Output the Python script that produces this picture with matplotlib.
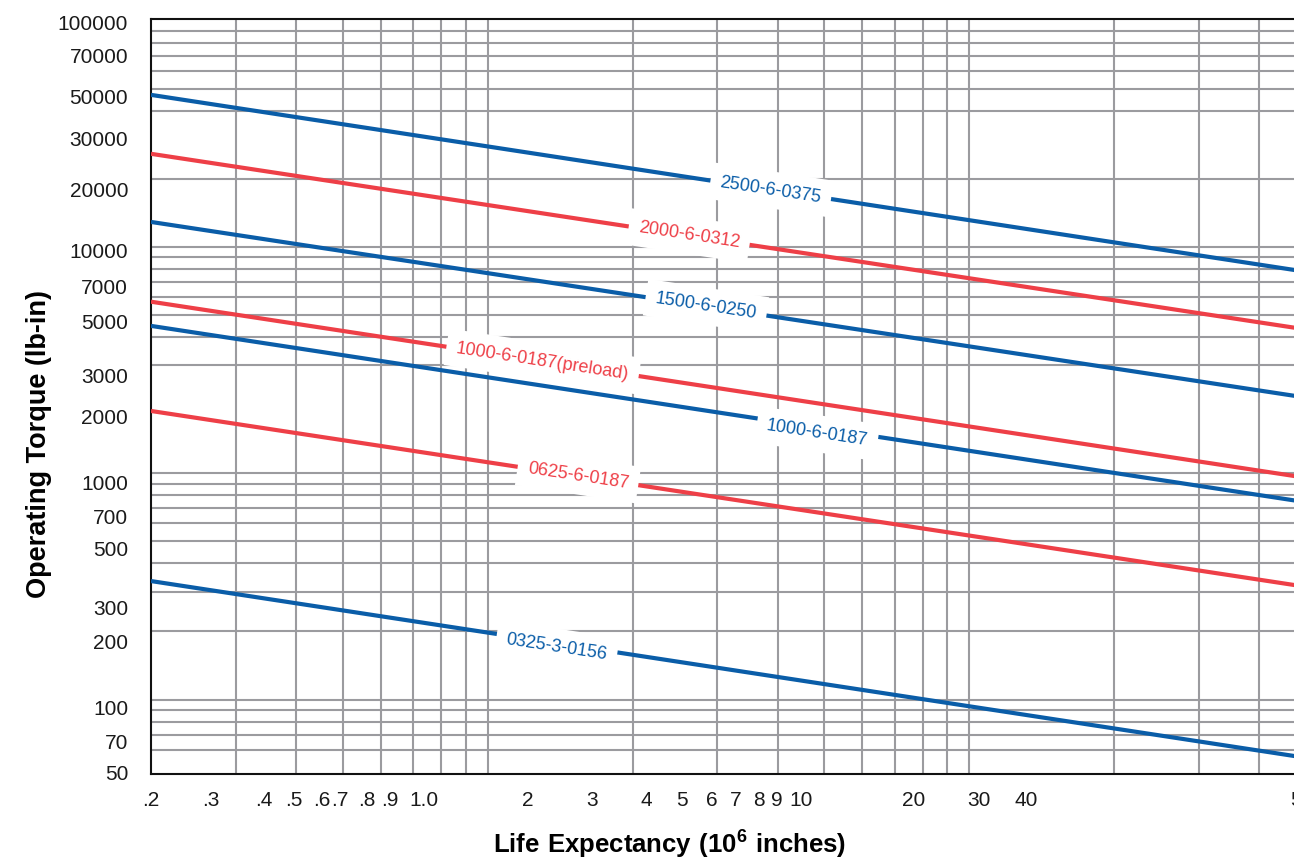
import numpy as np
import matplotlib
matplotlib.use('Agg')
import matplotlib.pyplot as plt
from matplotlib.ticker import FixedLocator, NullFormatter

plt.rcParams['font.family'] = ['Liberation Sans', 'DejaVu Sans']
plt.rcParams['mathtext.fontset'] = 'custom'
plt.rcParams['mathtext.rm'] = 'Liberation Sans'
plt.rcParams['mathtext.bf'] = 'Liberation Sans:bold'

# life expectancy (10^6 inches) at both ends of each rating line
life = [0.2, 50]

# operating torque (lb-in) at those two lives
torque_2500_6_0375 = [47000, 7770]
torque_2000_6_0312 = [25800, 4320]
torque_1500_6_0250 = [12900, 2160]
torque_1000_6_0187_preload = [5730, 955]
torque_1000_6_0187 = [4480, 745]
torque_0625_6_0187 = [1885, 315]
torque_0325_3_0156 = [334, 55.3]

names = ['2500-6-0375', '2000-6-0312', '1500-6-0250', '1000-6-0187(preload)',
         '1000-6-0187', '0625-6-0187', '0325-3-0156']
torques = [torque_2500_6_0375, torque_2000_6_0312, torque_1500_6_0250,
           torque_1000_6_0187_preload, torque_1000_6_0187,
           torque_0625_6_0187, torque_0325_3_0156]

BLUE = '#0A5DA8'
RED = '#EE3F47'
line_colors = [BLUE, RED, BLUE, RED, BLUE, RED, BLUE]
# where along each line the label box sits (life value)
label_life = [3.87, 2.62, 2.84, 1.30, 4.83, 1.54, 1.39]
label_shift = [0, 0, 0, 0, -6, 0, -4]  # px, small nudges seen in the original

# tick labels are printed slightly off the grid in the original
xtick_pos = [0.2, 0.266, 0.343, 0.396, 0.453, 0.493, 0.561, 0.627, 0.737,
             1.21, 1.65, 2.13, 2.53, 2.92, 3.27, 3.65, 3.98, 4.47,
             7.66, 10.45, 13.1, 49]
xtick_lab = ['.2', '.3', '.4', '.5', '.6', '.7', '.8', '.9', '1.0',
             '2', '3', '4', '5', '6', '7', '8', '9', '10', '20', '30', '40', '50']
ytick_pos = [98000, 69800, 46000, 30000, 18030, 9600, 6660, 4665, 2694, 1775,
             906, 641, 463, 256, 180, 92.7, 65, 47.4]
ytick_lab = ['100000', '70000', '50000', '30000', '20000', '10000', '7000', '5000',
             '3000', '2000', '1000', '700', '500', '300', '200', '100', '70', '50']

xgrid = [0.3, 0.4, 0.5, 0.6, 0.7, 0.8, 0.9, 1, 2, 3, 4, 5, 6, 7, 8, 9, 10, 20, 30, 40]
ygrid = [60, 70, 80, 90, 100, 200, 300, 400, 500, 600, 700, 800, 900, 1000,
         3000, 4000, 5000, 6000, 7000, 8000, 9000, 10000,
         20000, 30000, 40000, 50000, 60000, 70000, 80000, 90000]

fig = plt.figure(figsize=(12.94, 8.6), dpi=100)
ax = fig.add_axes([151 / 1294, 86 / 860, 1155 / 1294, 755 / 860])
ax.set_xscale('log')
ax.set_yscale('log')
ax.set_xlim(0.2, 50)
ax.set_ylim(46.9, 101700)

ax.xaxis.set_major_locator(FixedLocator(xtick_pos))
ax.set_xticklabels(xtick_lab)
ax.yaxis.set_major_locator(FixedLocator(ytick_pos))
ax.set_yticklabels(ytick_lab)
ax.xaxis.set_minor_locator(FixedLocator(xgrid))
ax.yaxis.set_minor_locator(FixedLocator(ygrid))
ax.xaxis.set_minor_formatter(NullFormatter())
ax.yaxis.set_minor_formatter(NullFormatter())
ax.tick_params(which='both', length=0)
ax.tick_params(axis='x', pad=12.5, labelsize=15, labelcolor='#1a1a1a')
ax.tick_params(axis='y', pad=16.5, labelsize=15, labelcolor='#1a1a1a')
ax.grid(which='minor', color='#9b9b9f', lw=1.5)
ax.grid(which='major', visible=False)
ax.set_axisbelow(True)

for s in ['left', 'bottom', 'top']:
    ax.spines[s].set_color('#111111')
    ax.spines[s].set_linewidth(1.5)
ax.spines['right'].set_visible(False)

for name, tq, col, xl, dy in zip(names, torques, line_colors, label_life, label_shift):
    ax.plot(life, tq, color=col, lw=3, solid_capstyle='butt', zorder=3)
    yl = 10 ** np.interp(np.log10(xl), np.log10(life), np.log10(tq))
    p0 = ax.transData.transform((life[0], tq[0]))
    p1 = ax.transData.transform((life[1], tq[1]))
    ang = np.degrees(np.arctan2(p1[1] - p0[1], p1[0] - p0[0]))
    px = ax.transData.transform((xl, yl))
    px[1] += dy
    xd, yd = ax.transData.inverted().transform(px)
    ax.text(xd, yd, name, color=col, fontsize=13, rotation=ang,
            rotation_mode='anchor', ha='center', va='center', zorder=4,
            bbox=dict(boxstyle='square,pad=0.55', fc='white', ec='none'))

ax.set_ylabel('Operating Torque (lb-in)', fontsize=19.5, fontweight='bold')
ax.yaxis.set_label_coords(-0.0857, 0.437)
ax.set_xlabel(r'$\mathbf{Life\ Expectancy\ (10^{6}\ inches)}$', fontsize=18.5)
ax.xaxis.set_label_coords(0.449, -0.072)

fig.savefig('out.png', dpi=100)
